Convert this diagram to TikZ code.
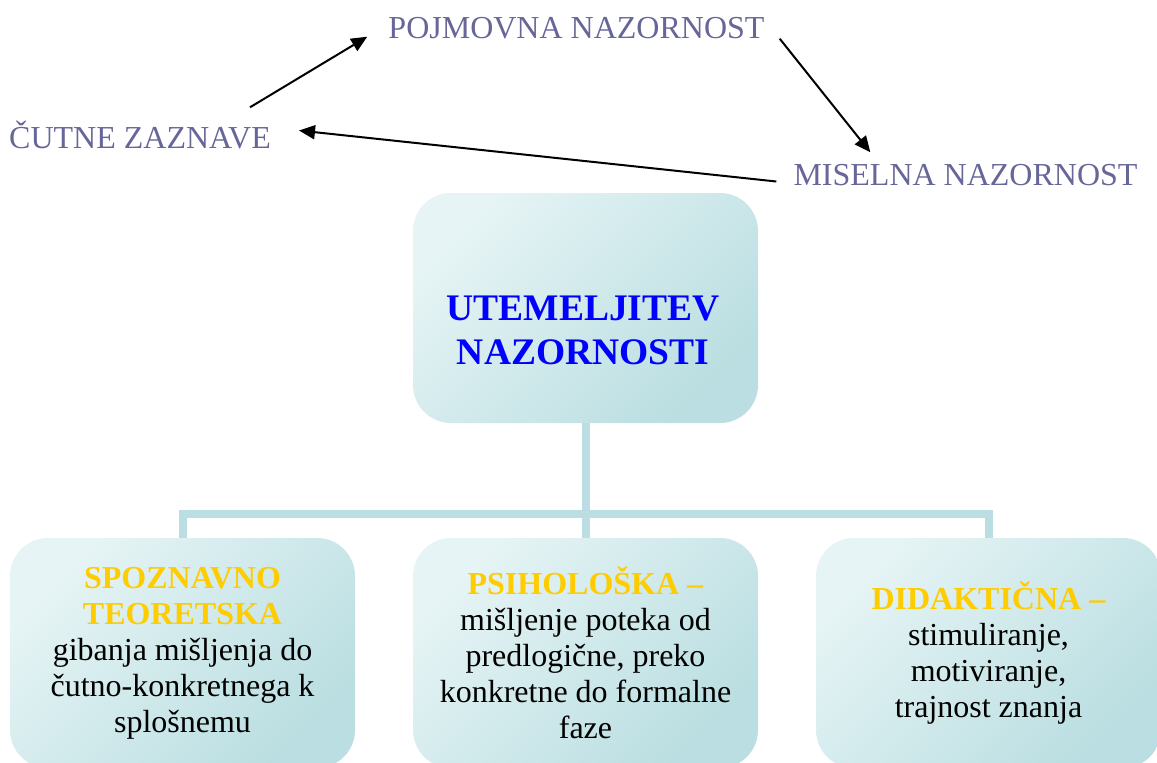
\documentclass[tikz,border=0pt]{standalone}
\usepackage{fontspec}
\setmainfont{Liberation Serif}
\usetikzlibrary{arrows.meta}
\definecolor{lav}{RGB}{102,102,153}
\definecolor{tealA}{RGB}{230,244,245}
\definecolor{tealB}{RGB}{186,222,225}
\definecolor{gold}{RGB}{255,204,0}
\newcommand{\yel}[1]{\textcolor{gold}{\textbf{#1}}}
\tikzset{
  card/.style={rounded corners=38pt, minimum width=345pt, minimum height=230pt, inner sep=0pt, top color=tealA, bottom color=tealB, shading angle=45, align=center, font=\fontsize{32}{36}\selectfont},
  topic/.style={text=lav, font=\fontsize{32}{36}\selectfont, inner sep=0pt, text height=22pt, text depth=0pt, anchor=base},
  ttl/.style={text=blue, font=\bfseries\fontsize{37.5}{44.5}\selectfont, align=center, inner sep=0pt},
  arr/.style={-{Triangle[length=16pt,width=14pt]}, line width=2pt},
  tree/.style={draw=tealB, line width=8pt},
}
\begin{document}
\begin{tikzpicture}[x=1pt,y=-1pt]
\useasboundingbox (0,0) rectangle (1157,763);
\node[topic] (pojm) at (576.5,38.5) {POJMOVNA NAZORNOST};
\node[topic] (cut) at (140,148.5) {ČUTNE ZAZNAVE};
\node[topic] (mis) at (965.5,185.5) {MISELNA NAZORNOST};
\draw[arr] ([shift={(-21,-19)}]cut.north east) -- ([shift={(-21,-2)}]pojm.south west);
\draw[arr] ([shift={(15,0)}]pojm.south east) -- ([shift={(77,-11)}]mis.north west);
\draw[arr] ([shift={(-17,7)}]mis.west) -- ([shift={(28,-7)}]cut.east);
\node[card] (root) at (585.5,308) {};
\node[ttl] at (583,330.5) {UTEMELJITEV\\NAZORNOSTI};
\node[card] (spoz) at (182.5,653) {\yel{SPOZNAVNO}\\\yel{TEORETSKA}\\gibanja mišljenja do\\čutno-konkretnega k\\splošnemu};
\node[card] (psih) at (585.5,653) {\yel{PSIHOLOŠKA –}\\mišljenje poteka od\\predlogične, preko\\konkretne do formalne\\faze};
\node[card] (didak) at (988.5,653) {\yel{DIDAKTIČNA –}\\stimuliranje,\\motiviranje,\\trajnost znanja};
\draw[tree] (root.south) -- (psih.north);
\draw[tree] (spoz.north) -- ++(0,-24) -| (didak.north);
\end{tikzpicture}
\end{document}
